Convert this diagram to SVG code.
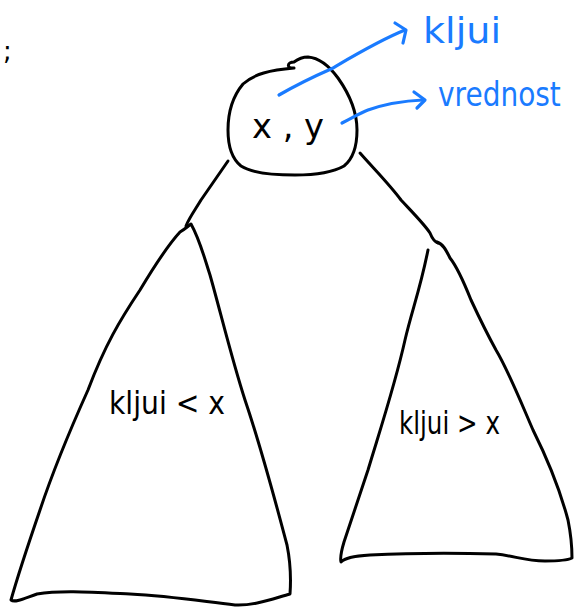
<svg xmlns="http://www.w3.org/2000/svg" width="576" height="607" viewBox="0 0 576 607">
<style>
.ink{fill:none;stroke:#000;stroke-width:3;stroke-linecap:round;stroke-linejoin:round}
.blue{fill:none;stroke:#1a7bff;stroke-width:3.2;stroke-linecap:round;stroke-linejoin:round}
.t{font-family:"DejaVu Sans","Liberation Sans",sans-serif;fill:#000}
.tb{font-family:"DejaVu Sans","Liberation Sans",sans-serif;fill:#1a7bff}
</style>
<rect width="576" height="607" fill="#fff"/>
<text class="t" x="3" y="60" font-size="26">;</text>
<g id="root">
<path class="ink" d="M294,68 C286,69 287,62 294,62 C298,59 302,57 308,57 C320,58 330,67 338,78 C350,95 357,112 357,130 C357,145 354,158 344,166 C332,173 315,175 295,175 C272,175 252,173 241,166 C231,158 228,146 228,130 C228,112 233,96 243,84 C254,74 270,70 294,68"/>
<text class="t" x="252" y="138" font-size="34" textLength="72" lengthAdjust="spacingAndGlyphs">x , y</text>
</g>
<g id="left">
<path class="ink" d="M180,232 C185,229 187,227 191,224 C200,240 205,260 210,275 C220,310 232,360 245,400 C262,450 275,500 287,545 C290,560 291,580 290,594 C275,598 255,606 235,605 C200,601 170,596 130,594 C90,592 60,590 37,594 C25,598 15,603 11,600 C18,575 28,545 40,510 C55,465 70,430 88,390 C105,345 120,320 140,290 C155,265 168,245 180,232 Z"/>
<text class="t" x="109" y="414" font-size="32" textLength="116" lengthAdjust="spacingAndGlyphs">kljui &lt; x</text>
</g>
<g id="right">
<path class="ink" d="M428,250 C420,290 412,310 405,340 C395,385 380,430 368,470 C358,500 348,530 344,542 C341,552 340,558 341,562 C345,558 352,556 370,555 C410,553 460,553 496,554 C515,556 525,561 545,561 C560,561 568,560 572,558 C572,545 571,535 568,520 C560,490 548,460 533,430 C520,400 508,370 496,350 C485,330 478,315 471,300 C465,285 458,268 450,258 C446,250 443,244 437,242"/>
<text class="t" x="399" y="434" font-size="32" textLength="101" lengthAdjust="spacingAndGlyphs">kljui &gt; x</text>
</g>
<g id="connectors">
<path class="ink" d="M228,161 L201,200 C195,210 189,218 186,226"/>
<path class="ink" d="M360,153 C375,170 390,185 401,200 C415,215 425,225 430,233 C432,238 435,242 438,243"/>
</g>
<g id="annotations">
<path class="blue" d="M279,95 C300,83 315,76 331,69 C355,55 380,40 405,30"/>
<path class="blue" d="M395,23 L406,30 L403,43"/>
<path class="blue" d="M342,123 C352,118 360,113 368,110 C385,104 400,101 423,100"/>
<path class="blue" d="M414,92 L425,100 L417,108"/>
<text class="tb" x="423" y="43" font-size="36" textLength="78" lengthAdjust="spacingAndGlyphs">kljui</text>
<text class="tb" transform="translate(438,106) scale(1,1.2)" font-size="28">vrednost</text>
</g>
</svg>
